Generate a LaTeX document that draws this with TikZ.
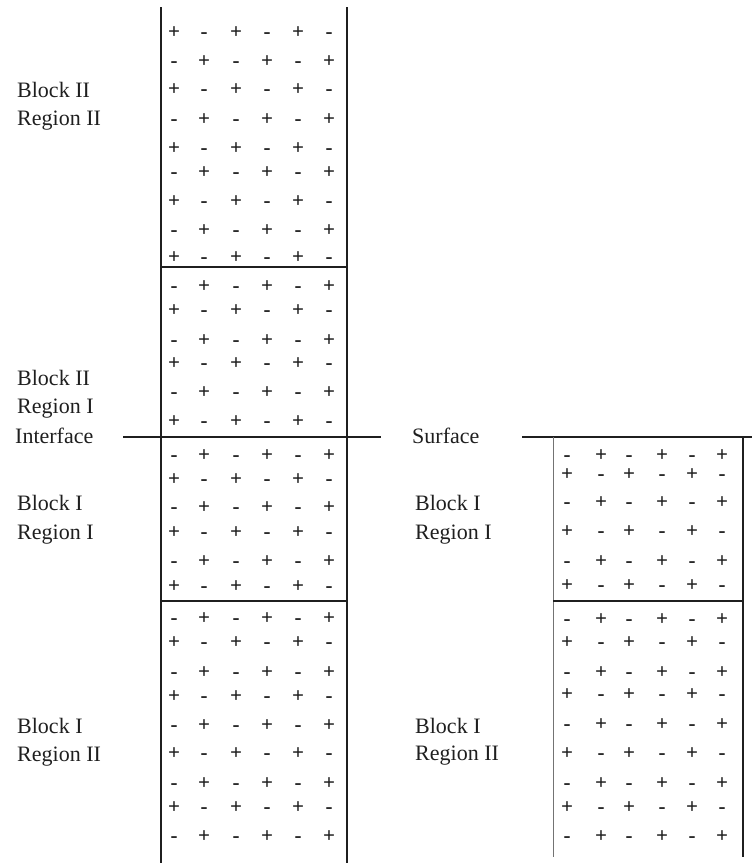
\documentclass[tikz,border=0pt]{standalone}
\usepackage{fontspec}
\setmainfont{Liberation Serif}
\usepackage{tikz}
\usetikzlibrary{positioning}
\colorlet{InkBlack}{black!88}
\colorlet{EdgeGrey}{black!55}

% one block of alternating charges, #4 = 0 starts with +, 1 starts with -
\newcommand{\chargegrid}[4]{%
  \foreach \yy [count=\r] in {#3}{
    \foreach \xx [count=\c] in {#2}{
      \pgfmathtruncatemacro{\sgnpar}{mod(\r+\c+#4,2)}
      \ifnum\sgnpar=0
        \node[charge] (#1-\r-\c) at (\xx,\yy+5.5) {+};
      \else
        \node[charge] (#1-\r-\c) at (\xx,\yy+5.5) {-};
      \fi
    }
  }%
}

\begin{document}
\begin{tikzpicture}[x=1pt,y=-1pt,
    charge/.style={font=\fontsize{21}{26}\selectfont\bfseries,text=InkBlack,inner sep=0pt,
      text height=11pt,text depth=0pt,anchor=base},
    lbl/.style={font=\fontsize{22}{26}\selectfont,text=InkBlack,inner sep=0pt,anchor=base west},
    wall/.style={line width=1.6pt,InkBlack}]
  \useasboundingbox (0,0) rectangle (752,865);

  % left column: block II over block I
  \draw[wall] (161,7) -- (161,863);
  \draw[wall] (347,7) -- (347,863);
  \draw[wall] (161,267) -- (347,267);
  \draw[wall] (161,601) -- (347,601);
  \draw[line width=1.4pt,InkBlack] (123,437) -- (381,437);

  \chargegrid{bIIrII}{174,204,236,267,298,329}{33,62,90,120,149,173,202,231,258}{0}
  \chargegrid{bIIrI}{174,204,236,267,298,329}{287,311,341,364,393,422}{1}
  \chargegrid{bIrI}{174,204,236,267,298,329}{456,480,508,533,562,587}{1}
  \chargegrid{bIrII}{174,204,236,267,298,329}{619,643,673,697,726,754,784,808,837}{1}

  \node[lbl] (bIIrII-a) at (17,97) {Block II};
  \node[lbl] (bIIrII-b) at (17,125) {Region II};
  \node[lbl] (bIIrI-a) at (17,385) {Block II};
  \node[lbl] (bIIrI-b) at (17,413) {Region I};
  \node[lbl] (iface) at (15,443) {Interface};
  \node[lbl] (bIrI-a) at (17,510) {Block I};
  \node[lbl] (bIrI-b) at (17,539) {Region I};
  \node[lbl] (bIrII-a) at (17,733) {Block I};
  \node[lbl] (bIrII-b) at (17,761) {Region II};

  % right column: block I under the free surface
  \draw[line width=1.4pt,InkBlack] (522,437) -- (752,437);
  \draw[line width=1pt,EdgeGrey] (553,437) -- (553,857);
  \draw[wall] (743,437) -- (743,857);
  \draw[wall] (553,601) -- (743,601);

  \chargegrid{sIrI}{567,601,629,662,692,722}{456,475,503,532,562,586}{1}
  \chargegrid{sIrII}{567,601,629,662,692,722}{620,643,673,695,725,754,784,808,837}{1}

  \node[lbl] (surf) at (412,443) {Surface};
  \node[lbl] (sIrI-a) at (415,510) {Block I};
  \node[lbl] (sIrI-b) at (415,539) {Region I};
  \node[lbl] (sIrII-a) at (415,733) {Block I};
  \node[lbl] (sIrII-b) at (415,760) {Region II};
\end{tikzpicture}
\end{document}
